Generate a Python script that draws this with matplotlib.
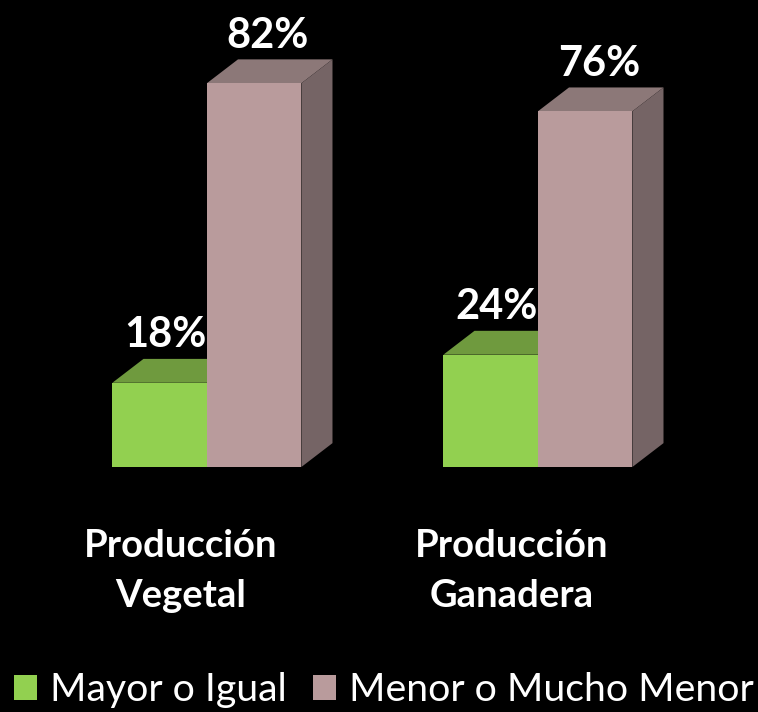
import matplotlib.pyplot as plt
from matplotlib.patches import Polygon

plt.rcParams['font.family'] = ['Lato', 'DejaVu Sans']

categories = ['Producción\nVegetal', 'Producción\nGanadera']
series_names = ['Mayor o Igual', 'Menor o Mucho Menor']
mayor = [18, 24]
menor = [82, 76]

# face colours: front, top, side
green = ('#92D050', '#6F9A3E', '#5E8434')
pink = ('#B99B9C', '#8C7878', '#756465')

BAR_W = 0.2855
DEPTH_X = 0.094   # depth offset in category units
DEPTH_Y = 5.1     # depth offset in percent units

fig = plt.figure(figsize=(7.58, 7.12), dpi=100, facecolor='black')
ax = fig.add_axes([0, 245 / 712, 1, 468 / 712])
ax.set_facecolor('black')
ax.set_xlim(-0.625, 1.665)
ax.set_ylim(0, 100)
ax.axis('off')


def box3d(x, h, colors, label=None):
    bar = ax.bar(x, h, BAR_W, color=colors[0], linewidth=0, label=label, zorder=3)
    x0, x1 = x - BAR_W / 2, x + BAR_W / 2
    top = Polygon([(x0, h), (x1, h), (x1 + DEPTH_X, h + DEPTH_Y), (x0 + DEPTH_X, h + DEPTH_Y)],
                  closed=True, facecolor=colors[1], edgecolor='none', zorder=2)
    side = Polygon([(x1, 0), (x1 + DEPTH_X, DEPTH_Y), (x1 + DEPTH_X, h + DEPTH_Y), (x1, h)],
                   closed=True, facecolor=colors[2], edgecolor='none', zorder=2)
    ax.add_patch(top)
    ax.add_patch(side)
    return bar


for i in range(len(categories)):
    xg = i - BAR_W / 2
    xp = i + BAR_W / 2
    box3d(xg, mayor[i], green, series_names[0] if i == 0 else None)
    box3d(xp, menor[i], pink, series_names[1] if i == 0 else None)
    ax.text(xg + 0.018, mayor[i] + DEPTH_Y + 2.5, f'{mayor[i]}%', color='white',
            fontsize=30, fontweight='bold', ha='center', va='baseline', zorder=1)
    ax.text(xp + DEPTH_X / 2 - 0.005, menor[i] + DEPTH_Y + 2.5, f'{menor[i]}%', color='white',
            fontsize=30, fontweight='bold', ha='center', va='baseline', zorder=4)
    ax.text(i - 0.078, -13.3, categories[i], color='white', fontsize=27.5,
            fontweight='bold', ha='center', va='top', linespacing=1.55)

leg = fig.legend(loc='lower left', bbox_to_anchor=(14 / 758, 0.005), ncol=2, frameon=False,
                 fontsize=28.3, handlelength=0.59, handleheight=0.59, handletextpad=0.33,
                 columnspacing=0.66, borderaxespad=0, borderpad=0)
for t in leg.get_texts():
    t.set_color('white')

fig.savefig('out.png', dpi=100, facecolor='black')
